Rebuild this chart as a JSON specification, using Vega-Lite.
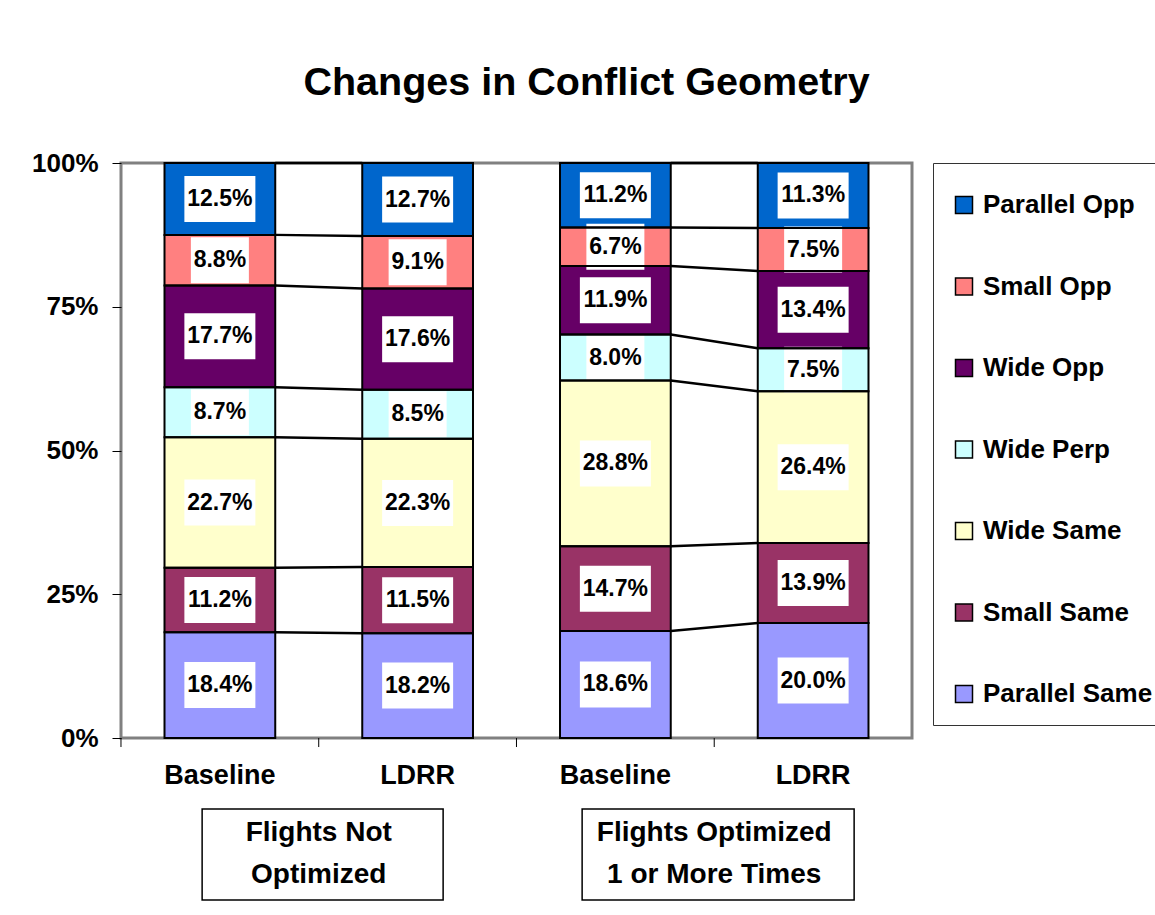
{
  "$schema": "https://vega.github.io/schema/vega-lite/v6.json",
  "autosize": {"type": "none"},
  "padding": {"left": 121, "top": 163, "right": 243, "bottom": 177},
  "width": 791,
  "height": 575,
  "background": "white",
  "title": {"text": "Changes in Conflict Geometry", "anchor": "middle", "frame": "group", "dx": 70, "offset": 16, "baseline": "alphabetic"},
  "config": {
    "font": "Liberation Sans",
    "view": {"stroke": "#808080", "strokeWidth": 3},
    "title": {"font": "Liberation Sans", "fontSize": 39.5, "fontWeight": "bold", "color": "black"},
    "axis": {"labelFont": "Liberation Sans", "labelFontWeight": "bold", "labelColor": "black", "tickColor": "black", "tickSize": 9, "domain": false, "grid": false, "title": null}
  },
  "datasets": {
    "groups": [
      {"at": "L1", "label": "Flights Not|Optimized"},
      {"at": "L2", "label": "Flights Optimized|1 or More Times"}
    ],
    "xticks": [
      {"at": "B1"}, {"at": "L1"}, {"at": "B2"}, {"at": "L2"}
    ]
  },
  "data": {
    "values": [
      {"group": "B1", "pair": "1", "side": "Baseline", "cat": "Parallel Same", "order": 1, "value": 0.184},
      {"group": "B1", "pair": "1", "side": "Baseline", "cat": "Small Same", "order": 2, "value": 0.112},
      {"group": "B1", "pair": "1", "side": "Baseline", "cat": "Wide Same", "order": 3, "value": 0.227},
      {"group": "B1", "pair": "1", "side": "Baseline", "cat": "Wide Perp", "order": 4, "value": 0.087},
      {"group": "B1", "pair": "1", "side": "Baseline", "cat": "Wide Opp", "order": 5, "value": 0.177},
      {"group": "B1", "pair": "1", "side": "Baseline", "cat": "Small Opp", "order": 6, "value": 0.088},
      {"group": "B1", "pair": "1", "side": "Baseline", "cat": "Parallel Opp", "order": 7, "value": 0.125},
      {"group": "L1", "pair": "1", "side": "LDRR", "cat": "Parallel Same", "order": 1, "value": 0.182},
      {"group": "L1", "pair": "1", "side": "LDRR", "cat": "Small Same", "order": 2, "value": 0.115},
      {"group": "L1", "pair": "1", "side": "LDRR", "cat": "Wide Same", "order": 3, "value": 0.223},
      {"group": "L1", "pair": "1", "side": "LDRR", "cat": "Wide Perp", "order": 4, "value": 0.085},
      {"group": "L1", "pair": "1", "side": "LDRR", "cat": "Wide Opp", "order": 5, "value": 0.176},
      {"group": "L1", "pair": "1", "side": "LDRR", "cat": "Small Opp", "order": 6, "value": 0.091},
      {"group": "L1", "pair": "1", "side": "LDRR", "cat": "Parallel Opp", "order": 7, "value": 0.127},
      {"group": "B2", "pair": "2", "side": "Baseline", "cat": "Parallel Same", "order": 1, "value": 0.186},
      {"group": "B2", "pair": "2", "side": "Baseline", "cat": "Small Same", "order": 2, "value": 0.147},
      {"group": "B2", "pair": "2", "side": "Baseline", "cat": "Wide Same", "order": 3, "value": 0.288},
      {"group": "B2", "pair": "2", "side": "Baseline", "cat": "Wide Perp", "order": 4, "value": 0.080},
      {"group": "B2", "pair": "2", "side": "Baseline", "cat": "Wide Opp", "order": 5, "value": 0.119},
      {"group": "B2", "pair": "2", "side": "Baseline", "cat": "Small Opp", "order": 6, "value": 0.067},
      {"group": "B2", "pair": "2", "side": "Baseline", "cat": "Parallel Opp", "order": 7, "value": 0.112},
      {"group": "L2", "pair": "2", "side": "LDRR", "cat": "Parallel Same", "order": 1, "value": 0.200},
      {"group": "L2", "pair": "2", "side": "LDRR", "cat": "Small Same", "order": 2, "value": 0.139},
      {"group": "L2", "pair": "2", "side": "LDRR", "cat": "Wide Same", "order": 3, "value": 0.264},
      {"group": "L2", "pair": "2", "side": "LDRR", "cat": "Wide Perp", "order": 4, "value": 0.075},
      {"group": "L2", "pair": "2", "side": "LDRR", "cat": "Wide Opp", "order": 5, "value": 0.134},
      {"group": "L2", "pair": "2", "side": "LDRR", "cat": "Small Opp", "order": 6, "value": 0.075},
      {"group": "L2", "pair": "2", "side": "LDRR", "cat": "Parallel Opp", "order": 7, "value": 0.113}
    ]
  },
  "layer": [
    {
      "mark": {"type": "bar", "strokeWidth": 0},
      "encoding": {
        "x": {"field": "group", "type": "nominal", "sort": null,
              "scale": {"domain": ["B1", "L1", "B2", "L2"], "paddingInner": 0.44, "paddingOuter": 0.22},
              "axis": {"labelExpr": "datum.value[0] == 'B' ? 'Baseline' : 'LDRR'", "labelAngle": 0, "labelFontSize": 27, "labelPadding": 24, "ticks": false}},
        "y": {"field": "value", "type": "quantitative", "stack": "normalize",
              "scale": {"domain": [0, 1]},
              "axis": {"values": [0, 0.25, 0.5, 0.75, 1], "format": ".0%", "labelFontSize": 26, "labelPadding": 14}},
        "color": {"field": "cat", "type": "nominal",
                  "scale": {"domain": ["Parallel Opp", "Small Opp", "Wide Opp", "Wide Perp", "Wide Same", "Small Same", "Parallel Same"],
                            "range": ["#0066CC", "#FF8080", "#660066", "#CCFFFF", "#FFFFCC", "#993366", "#9999FF"]},
                  "legend": {"title": " ", "titleFontSize": 6, "titlePadding": 5, "orient": "none", "legendX": 812, "legendY": 0,
                             "strokeColor": "#333333", "fillColor": "white", "padding": 18,
                             "symbolType": "square", "symbolSize": 289, "symbolStrokeColor": "black", "symbolStrokeWidth": 1.5, "symbolOpacity": 1,
                             "labelFont": "Liberation Sans", "labelFontSize": 26, "labelFontWeight": "bold", "labelColor": "black", "labelOffset": 6, "labelLimit": 300,
                             "rowPadding": 55.5}},
        "order": {"field": "order", "type": "quantitative", "sort": "ascending"}
      }
    },
    {
      "mark": {"type": "tick", "color": "white", "thickness": 46, "opacity": 1},
      "encoding": {
        "x": {"field": "group", "type": "nominal"},
        "y": {"field": "value", "type": "quantitative", "stack": "normalize", "bandPosition": 0.5},
        "detail": {"field": "cat"},
        "order": {"field": "order", "type": "quantitative", "sort": "ascending"},
        "size": {"condition": {"test": "datum.value >= 0.1", "value": 71}, "value": 58}
      }
    },
    {
      "mark": {"type": "bar", "fillOpacity": 0, "stroke": "black", "strokeWidth": 2},
      "encoding": {
        "x": {"field": "group", "type": "nominal"},
        "y": {"field": "value", "type": "quantitative", "stack": "normalize"},
        "detail": {"field": "cat"},
        "order": {"field": "order", "type": "quantitative", "sort": "ascending"}
      }
    },
    {
      "mark": {"type": "text", "fontSize": 23, "fontWeight": "bold", "color": "black", "baseline": "middle", "align": "center"},
      "encoding": {
        "x": {"field": "group", "type": "nominal"},
        "y": {"field": "value", "type": "quantitative", "stack": "normalize", "bandPosition": 0.5},
        "detail": {"field": "cat"},
        "order": {"field": "order", "type": "quantitative", "sort": "ascending"},
        "text": {"field": "value", "type": "quantitative", "format": ".1%"}
      }
    },
    {
      "transform": [
        {"stack": "value", "groupby": ["group"], "sort": [{"field": "order", "order": "ascending"}], "as": ["y0", "y1"], "offset": "normalize"},
        {"window": [{"op": "lead", "field": "y1", "as": "nextTop"}, {"op": "lead", "field": "group", "as": "nextGroup"}],
         "groupby": ["pair", "cat"], "sort": [{"field": "side", "order": "ascending"}]},
        {"filter": "datum.side == 'Baseline'"}
      ],
      "mark": {"type": "rule", "color": "black", "strokeWidth": 2.5},
      "encoding": {
        "x": {"field": "group", "type": "nominal", "bandPosition": 1},
        "x2": {"field": "nextGroup", "bandPosition": 0},
        "y": {"field": "y1", "type": "quantitative"},
        "y2": {"field": "nextTop"}
      }
    },
    {
      "data": {"name": "xticks"},
      "mark": {"type": "rule", "color": "black", "strokeWidth": 1},
      "encoding": {
        "x": {"field": "at", "type": "nominal", "bandPosition": -0.393},
        "y": {"datum": 0, "type": "quantitative"},
        "y2": {"datum": -0.0157}
      }
    },
    {
      "data": {"name": "groups"},
      "mark": {"type": "tick", "fill": "white", "stroke": "black", "strokeWidth": 1.5, "thickness": 91, "opacity": 1, "xOffset": -95},
      "encoding": {
        "x": {"field": "at", "type": "nominal"},
        "y": {"datum": -0.2026, "type": "quantitative"},
        "size": {"condition": {"test": "datum.at == 'L1'", "value": 241}, "value": 272}
      }
    },
    {
      "data": {"name": "groups"},
      "mark": {"type": "text", "lineBreak": "|", "fontSize": 28, "fontWeight": "bold", "color": "black", "baseline": "middle", "align": "center", "lineHeight": 42, "dy": -21},
      "encoding": {
        "x": {"field": "at", "type": "nominal", "bandPosition": -0.393},
        "y": {"datum": -0.2026, "type": "quantitative"},
        "text": {"field": "label"}
      }
    }
  ]
}
